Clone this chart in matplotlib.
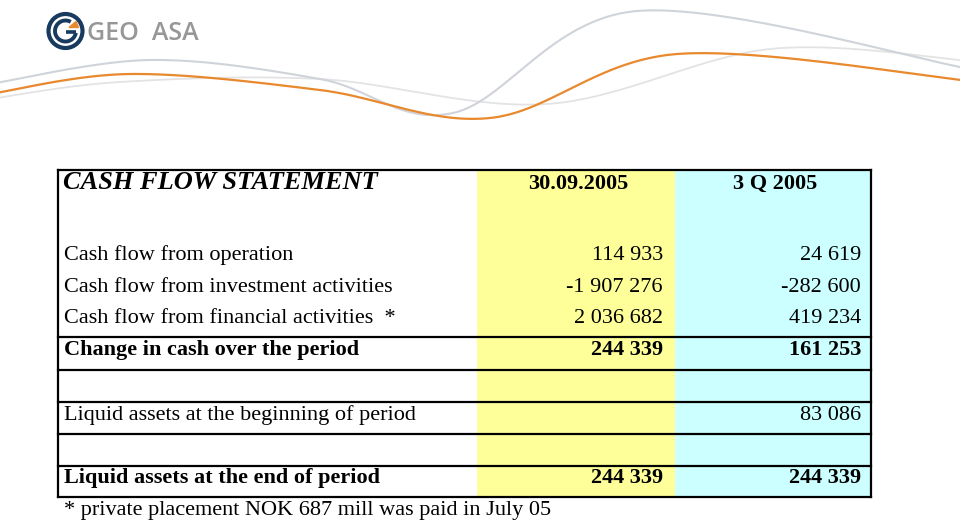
import numpy as np
import matplotlib.pyplot as plt
from matplotlib.patches import Rectangle, Circle, Arc, Polygon

# table content
title = 'CASH FLOW STATEMENT'
col_heads = ['30.09.2005', '3 Q 2005']
row_labels = ['Cash flow from operation',
              'Cash flow from investment activities',
              'Cash flow from financial activities  *',
              'Change in cash over the period',
              '',
              'Liquid assets at the beginning of period',
              '',
              'Liquid assets at the end of period']
ytd_vals = ['114 933', '-1 907 276', '2 036 682', '244 339', '', '', '', '244 339']
q3_vals = ['24 619', '-282 600', '419 234', '161 253', '', '83 086', '', '244 339']
bold_rows = [3, 7]
footnote = '* private placement NOK 687 mill was paid in July 05'

# decorative swoosh waypoints (pixel coords)
orange_pts = [(-10, 94), (130, 74), (320, 90), (490, 118), (677, 54), (970, 81)]
gray_pts = [(-10, 84), (150, 60), (320, 79), (453, 113), (637, 11), (970, 69)]
light_pts = [(-10, 99), (120, 82), (320, 79), (547, 104), (770, 49), (970, 61)]


def catmull(pts, n=60):
    p = np.array(pts, dtype=float)
    p = np.vstack([p[0], p, p[-1]])
    out = []
    t = np.linspace(0, 1, n)[:, None]
    for i in range(1, len(p) - 2):
        p0, p1, p2, p3 = p[i - 1], p[i], p[i + 1], p[i + 2]
        seg = 0.5 * ((2 * p1) + (-p0 + p2) * t + (2 * p0 - 5 * p1 + 4 * p2 - p3) * t ** 2
                     + (-p0 + 3 * p1 - 3 * p2 + p3) * t ** 3)
        out.append(seg)
    return np.vstack(out)


fig = plt.figure(figsize=(9.6, 5.21), dpi=100)
ax = fig.add_axes([0, 0, 1, 1])
ax.set_xlim(0, 960)
ax.set_ylim(521, 0)
ax.axis('off')

# swooshes
for pts, c, lw in [(light_pts, '#e3e3e6', 1.3), (gray_pts, '#cfd3da', 1.5), (orange_pts, '#e8892e', 1.6)]:
    xy = catmull(pts)
    ax.plot(xy[:, 0], xy[:, 1], color=c, lw=lw, solid_capstyle='round')

# logo
navy = '#173a5e'
ax.add_patch(Circle((65.5, 31), 17, fill=False, ec=navy, lw=3.0))
ax.add_patch(Arc((65.5, 31), 21, 21, theta1=10, theta2=300, color=navy, lw=2.8))
ax.plot([66, 76], [32, 32], color=navy, lw=2.6, solid_capstyle='butt')
ax.add_patch(Polygon([(69, 27.5), (76, 21.5), (78.5, 27.5)], closed=True, color='#e8892e'))
ax.text(87, 40, 'GEO  ASA', fontsize=18, fontweight='semibold', color='#979797',
        family='Open Sans', va='baseline', ha='left')

# table geometry
left, right, top, bottom = 58, 871, 170, 497
ycol = (477, 675)
ccol = (675, 871)
ax.add_patch(Rectangle((ycol[0], top), ycol[1] - ycol[0], bottom - top, color='#ffff99', lw=0))
ax.add_patch(Rectangle((ccol[0], top), ccol[1] - ccol[0], bottom - top, color='#ccffff', lw=0))

serif = 'Liberation Serif'
ax.text(63, 189, title, fontsize=19, fontweight='bold', fontstyle='italic',
        family=serif, va='baseline', ha='left')
ax.text(578, 189, col_heads[0], fontsize=16, fontweight='bold', family=serif, va='baseline', ha='center')
ax.text(775, 189, col_heads[1], fontsize=16, fontweight='bold', family=serif, va='baseline', ha='center')

row_y = [260, 292, 323, 355, 387, 420, 451, 483]
for i, y in enumerate(row_y):
    w = 'bold' if i in bold_rows else 'normal'
    ax.text(64, y, row_labels[i], fontsize=16, fontweight=w, family=serif, va='baseline', ha='left')
    ax.text(663, y, ytd_vals[i], fontsize=16, fontweight=w, family=serif, va='baseline', ha='right')
    ax.text(861, y, q3_vals[i], fontsize=16, fontweight=w, family=serif, va='baseline', ha='right')

# borders
for y in [top, 337, 370, 402, 434, 466, bottom]:
    ax.plot([left, right], [y, y], color='black', lw=1.6)
for x in [left, right]:
    ax.plot([x, x], [top, bottom], color='black', lw=1.6)

ax.text(64, 515, footnote, fontsize=16, family=serif, va='baseline', ha='left')

fig.savefig('out.png', dpi=100)
